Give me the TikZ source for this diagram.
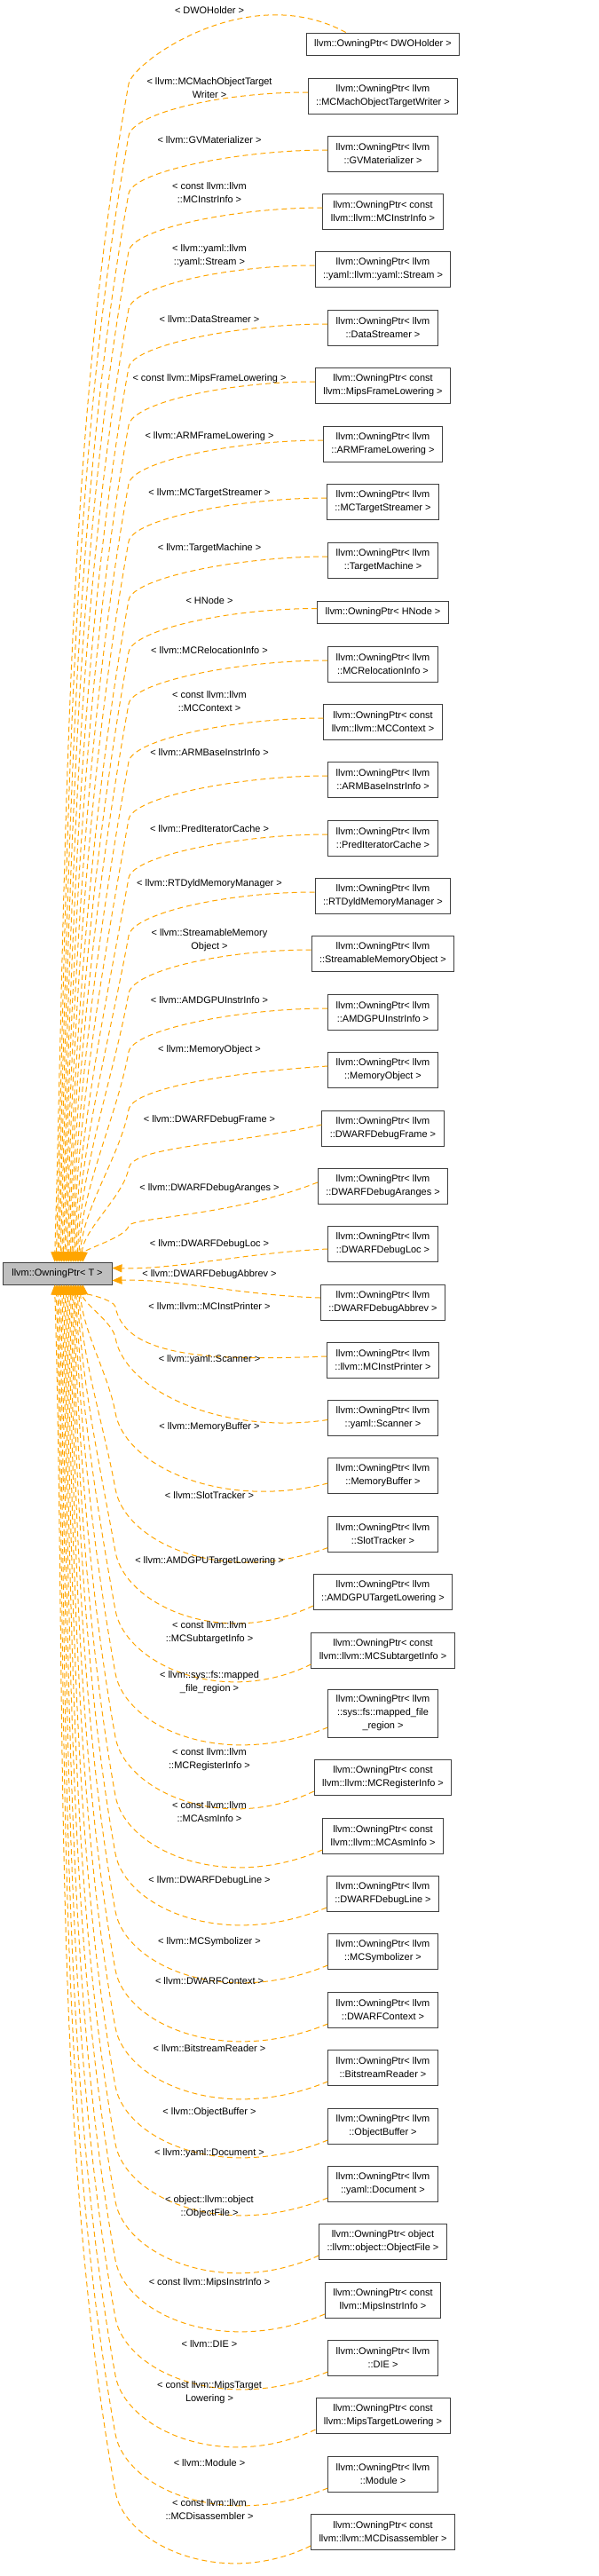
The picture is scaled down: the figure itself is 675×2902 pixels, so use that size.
\documentclass[tikz,border=0pt]{standalone}
\usepackage{fontspec}
\setmainfont{Liberation Sans}
\usetikzlibrary{calc,arrows.meta}
\definecolor{inhcol}{HTML}{FFA500}
\definecolor{basefill}{HTML}{BFBFBF}
\tikzset{
  ptr/.style={draw=black!75, line width=0.9bp, fill=white, align=center, inner xsep=9bp, inner ysep=2bp, minimum height=#1},
  ptr/.default=40bp,
  lbl/.style={align=center, inner sep=0pt},
  inh/.style={draw=inhcol, line width=1bp, dash pattern=on 6bp off 4bp, -{Triangle[length=11bp,width=9bp]}}
}
\begin{document}
\begin{tikzpicture}[x=1bp, y=-1bp, font=\fontsize{11}{15}\selectfont]
    \useasboundingbox (0,0) rectangle (675,2902);
    \node[ptr=25bp, fill=basefill, minimum width=123bp] (t) at (64.5,1434.5) {llvm::OwningPtr< T >};
    \foreach \y/\h/\ly/\txt/\ltxt [count=\i] in {
        49.5/25bp/12/{llvm::OwningPtr< DWOHolder >}/{< DWOHolder >},
        108/40bp/99.5/{llvm::OwningPtr< llvm\\::MCMachObjectTargetWriter >}/{< llvm::MCMachObjectTarget\\Writer >},
        173/40bp/158/{llvm::OwningPtr< llvm\\::GVMaterializer >}/{< llvm::GVMaterializer >},
        238/40bp/217.5/{llvm::OwningPtr< const\\llvm::llvm::MCInstrInfo >}/{< const llvm::llvm\\::MCInstrInfo >},
        303/40bp/288.5/{llvm::OwningPtr< llvm\\::yaml::llvm::yaml::Stream >}/{< llvm::yaml::llvm\\::yaml::Stream >},
        369/40bp/360/{llvm::OwningPtr< llvm\\::DataStreamer >}/{< llvm::DataStreamer >},
        434/40bp/427/{llvm::OwningPtr< const\\llvm::MipsFrameLowering >}/{< const llvm::MipsFrameLowering >},
        500/40bp/492/{llvm::OwningPtr< llvm\\::ARMFrameLowering >}/{< llvm::ARMFrameLowering >},
        565/40bp/556/{llvm::OwningPtr< llvm\\::MCTargetStreamer >}/{< llvm::MCTargetStreamer >},
        631/40bp/618/{llvm::OwningPtr< llvm\\::TargetMachine >}/{< llvm::TargetMachine >},
        689.5/25bp/677/{llvm::OwningPtr< HNode >}/{< HNode >},
        748/40bp/733/{llvm::OwningPtr< llvm\\::MCRelocationInfo >}/{< llvm::MCRelocationInfo >},
        813/40bp/790.5/{llvm::OwningPtr< const\\llvm::llvm::MCContext >}/{< const llvm::llvm\\::MCContext >},
        878/40bp/848/{llvm::OwningPtr< llvm\\::ARMBaseInstrInfo >}/{< llvm::ARMBaseInstrInfo >},
        944/40bp/934/{llvm::OwningPtr< llvm\\::PredIteratorCache >}/{< llvm::PredIteratorCache >},
        1009/40bp/996/{llvm::OwningPtr< llvm\\::RTDyldMemoryManager >}/{< llvm::RTDyldMemoryManager >},
        1074/40bp/1059.5/{llvm::OwningPtr< llvm\\::StreamableMemoryObject >}/{< llvm::StreamableMemory\\Object >},
        1140/40bp/1127/{llvm::OwningPtr< llvm\\::AMDGPUInstrInfo >}/{< llvm::AMDGPUInstrInfo >},
        1205/40bp/1183/{llvm::OwningPtr< llvm\\::MemoryObject >}/{< llvm::MemoryObject >},
        1271/40bp/1262/{llvm::OwningPtr< llvm\\::DWARFDebugFrame >}/{< llvm::DWARFDebugFrame >},
        1336/40bp/1339/{llvm::OwningPtr< llvm\\::DWARFDebugAranges >}/{< llvm::DWARFDebugAranges >},
        1401/40bp/1402/{llvm::OwningPtr< llvm\\::DWARFDebugLoc >}/{< llvm::DWARFDebugLoc >},
        1467/40bp/1436/{llvm::OwningPtr< llvm\\::DWARFDebugAbbrev >}/{< llvm::DWARFDebugAbbrev >},
        1532/40bp/1472/{llvm::OwningPtr< llvm\\::llvm::MCInstPrinter >}/{< llvm::llvm::MCInstPrinter >},
        1597/40bp/1532/{llvm::OwningPtr< llvm\\::yaml::Scanner >}/{< llvm::yaml::Scanner >},
        1662/40bp/1608/{llvm::OwningPtr< llvm\\::MemoryBuffer >}/{< llvm::MemoryBuffer >},
        1728/40bp/1685/{llvm::OwningPtr< llvm\\::SlotTracker >}/{< llvm::SlotTracker >},
        1793/40bp/1759/{llvm::OwningPtr< llvm\\::AMDGPUTargetLowering >}/{< llvm::AMDGPUTargetLowering >},
        1859/40bp/1839.5/{llvm::OwningPtr< const\\llvm::llvm::MCSubtargetInfo >}/{< const llvm::llvm\\::MCSubtargetInfo >},
        1930/54bp/1895.5/{llvm::OwningPtr< llvm\\::sys::fs::mapped\_file\\\_region >}/{< llvm::sys::fs::mapped\\\_file\_region >},
        2002/40bp/1982.5/{llvm::OwningPtr< const\\llvm::llvm::MCRegisterInfo >}/{< const llvm::llvm\\::MCRegisterInfo >},
        2068/40bp/2041/{llvm::OwningPtr< const\\llvm::llvm::MCAsmInfo >}/{< const llvm::llvm\\::MCAsmInfo >},
        2133/40bp/2119/{llvm::OwningPtr< llvm\\::DWARFDebugLine >}/{< llvm::DWARFDebugLine >},
        2198/40bp/2188/{llvm::OwningPtr< llvm\\::MCSymbolizer >}/{< llvm::MCSymbolizer >},
        2264/40bp/2232/{llvm::OwningPtr< llvm\\::DWARFContext >}/{< llvm::DWARFContext >},
        2329/40bp/2308/{llvm::OwningPtr< llvm\\::BitstreamReader >}/{< llvm::BitstreamReader >},
        2395/40bp/2380/{llvm::OwningPtr< llvm\\::ObjectBuffer >}/{< llvm::ObjectBuffer >},
        2460/40bp/2426/{llvm::OwningPtr< llvm\\::yaml::Document >}/{< llvm::yaml::Document >},
        2525/40bp/2486.5/{llvm::OwningPtr< object\\::llvm::object::ObjectFile >}/{< object::llvm::object\\::ObjectFile >},
        2591/40bp/2572/{llvm::OwningPtr< const\\llvm::MipsInstrInfo >}/{< const llvm::MipsInstrInfo >},
        2656/40bp/2640/{llvm::OwningPtr< llvm\\::DIE >}/{< llvm::DIE >},
        2721/40bp/2695.5/{llvm::OwningPtr< const\\llvm::MipsTargetLowering >}/{< const llvm::MipsTarget\\Lowering >},
        2787/40bp/2775/{llvm::OwningPtr< llvm\\::Module >}/{< llvm::Module >},
        2852/40bp/2827.5/{llvm::OwningPtr< const\\llvm::llvm::MCDisassembler >}/{< const llvm::llvm\\::MCDisassembler >}} {
        \node[ptr=\h] (n\i) at (431.5,\y) {\txt};
        \node[lbl] (l\i) at (236,\ly) {\ltxt};
        % edges into the top of the base box
        \ifnum\i=1
            \draw[inh] ($(n1.north west)+(45,0)$) .. controls ($(n1.north west)+(-65,-60)$) and (149.5,70) .. (145,94.5)
                .. controls (73,492.5) and (75,958) .. ($(t.north west)+(59,0)$);
        \fi
        \ifnum\i>1 \ifnum\i<22
            \pgfmathsetmacro\yB{\y+45}
            \pgfmathsetmacro\dd{1422-\yB}
            \pgfmathsetmacro\dip{max(0,\y-1180)*0.25}
            \pgfmathsetmacro\pb{max(\y+20,\y-4+\dip)}
            \pgfmathsetmacro\xb{62+1.6*(\i-1)}
            \draw[inh] ($(n\i.west)+(0,-4)$) .. controls ($(n\i.west)+(-100,{\dip-4})$) and (149.5,\pb) .. (145,\yB)
                .. controls ({145-0.054*\dd},{\yB+0.3*\dd}) and ({\xb+0.01*\dd},{1422-0.35*\dd}) .. ($(t.north west)+({\xb-3},0)$);
        \fi \fi
        % edges into the bottom of the base box
        \ifnum\i>23
            \pgfmathsetmacro\trough{min(30,-60+0.3*(\y-1447))}
            \pgfmathsetmacro\yB{max(1472,\y+\trough-75)}
            \pgfmathsetmacro\dd{\yB-1447}
            \pgfmathsetmacro\aoff{min(16,-4+0.1*(\y-1532))}
            \pgfmathsetmacro\xb{62+1.6*(44-\i)}
            \draw[inh] ($(n\i.west)+(0,\aoff)$) .. controls (250,{\y+\trough+35}) and (140.8,{\yB+60}) .. (130,\yB)
                .. controls ({130-0.054*\dd},{\yB-0.3*\dd}) and ({\xb+0.01*\dd},{1447+0.35*\dd}) .. ($(t.south west)+({\xb-3},0)$);
        \fi
    }
    \draw[inh] ($(n22.west)+(0,6)$) .. controls ($(n22.west)+(-90,10)$) and ($(t.east)+(70,-4)$) .. ($(t.east)+(0,-6)$);
    \draw[inh] ($(n23.west)+(0,-5)$) .. controls ($(n23.west)+(-90,-8)$) and ($(t.east)+(70,6)$) .. ($(t.east)+(0,8)$);
\end{tikzpicture}
\end{document}
